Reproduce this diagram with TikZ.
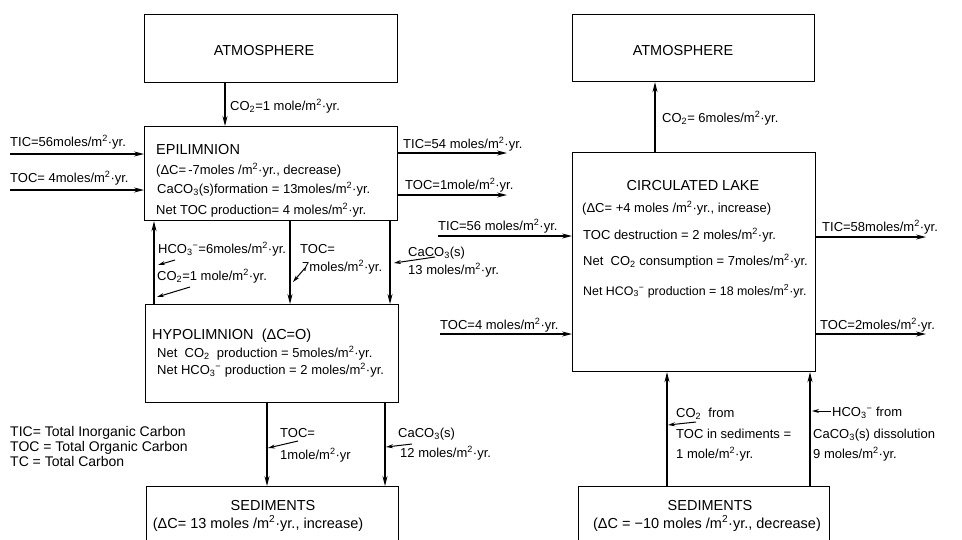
\documentclass[tikz,border=0pt]{standalone}
\usepackage{fontspec}
\setmainfont{Liberation Sans}
\usetikzlibrary{arrows.meta}

\newcommand{\sq}{m\textsuperscript{2}·yr.}
\newcommand{\cotwo}{CO\textsubscript{2}}
\newcommand{\hcothree}{HCO\textsubscript{3}\textsuperscript{−}}
\newcommand{\cacothree}{CaCO\textsubscript{3}}
\newcommand{\headsize}{\fontsize{14.5}{16}\selectfont}

\begin{document}
\begin{tikzpicture}[x=1pt, y=-1pt, font=\fontsize{13}{15}\selectfont]
            \tikzstyle{box} = [draw, line width=1.2pt, anchor=north west, inner sep=0]
            \tikzstyle{txt} = [anchor=base west, inner sep=0]
            \tikzstyle{head} = [anchor=base, inner sep=0, font=\headsize]
            \tikzstyle{flow} = [line width=1.2pt, -{Stealth[length=10pt, width=5pt]}]
            \tikzstyle{ptr} = [line width=1pt, -{Stealth[length=7pt, width=4pt]}]

            \useasboundingbox (0,0) rectangle (962,539);

            % stratified lake
            \node[box, minimum width=253pt, minimum height=68pt] (atmL) at (144,14) {};
            \node[box, minimum width=253pt, minimum height=94pt] (epi) at (144,126) {};
            \node[box, minimum width=253pt, minimum height=98pt] (hypo) at (145,304) {};
            \node[box, minimum width=252pt, minimum height=80pt] (sedL) at (146,486) {};

            \node[head] (atmLtxt) at (264,55) {ATMOSPHERE};
            \node[head, anchor=base west] (epiTtl) at (156,154) {EPILIMNION};
            \node[txt] (epiA) at (156,174) {(ΔC=\,-7moles /\sq, decrease)};
            \node[txt] (epiB) at (157,193) {\cacothree(s)formation = 13moles/\sq};
            \node[txt] (epiC) at (156,214) {Net TOC production= 4 moles/\sq};

            \draw[flow] (225,0 |- atmL.south) -- (225,0 |- epi.north);
            \node[txt] (co2L) at (230,110) {\cotwo=1 mole/\sq};

            \coordinate (ticLin) at (10,154);
            \coordinate (tocLin) at (10,190);
            \coordinate (ticLout) at (507,153);
            \coordinate (tocLout) at (507,195);
            \draw[flow] (ticLin) -- (ticLin -| epi.west);
            \draw[flow] (tocLin) -- (tocLin -| epi.west);
            \draw[flow] (ticLout -| epi.east) -- (ticLout);
            \draw[flow] (tocLout -| epi.east) -- (tocLout);
            \node[txt] (ticLinTxt) at (10,146) {TIC=56moles/\sq};
            \node[txt] (tocLinTxt) at (10,182) {TOC= 4moles/\sq};
            \node[txt] (ticLoutTxt) at (403,148) {TIC=54 moles/\sq};
            \node[txt] (tocLoutTxt) at (405,189) {TOC=1mole/\sq};

            \draw[flow] (154,0 |- hypo.north) -- (154,0 |- epi.south);
            \draw[flow] (290,0 |- epi.south) -- (290,0 |- hypo.north);
            \draw[flow] (390,0 |- epi.south) -- (390,0 |- hypo.north);
            \node[txt] (hcoUp) at (158,253) {\hcothree=6moles/\sq};
            \node[txt] (co2Up) at (157,280) {\cotwo=1 mole/\sq};
            \node[txt] (tocDnA) at (300,253) {TOC=};
            \node[txt] (tocDnB) at (302,271) {7moles/\sq};
            \node[txt] (cacoDnA) at (408,256) {\cacothree(s)};
            \node[txt] (cacoDnB) at (408,274) {13 moles/\sq};
            \draw[ptr] ([shift={(17,7)}]hcoUp.base west) -- ++(-17,5);
            \draw[ptr] ([shift={(33,7)}]co2Up.base west) -- ++(-33,10);
            \draw[ptr] ([shift={(3,-3)}]tocDnB.base west) -- ++(-12,14);
            \draw[ptr] ([shift={(27,1)}]cacoDnA.base west) -- ++(-41,6);

            \node[head, anchor=base west] (hypoTtl) at (152,339) {HYPOLIMNION\ \ (ΔC=O)};
            \node[txt] (hypoA) at (157,357) {Net \ \cotwo\ \ production = 5moles/\sq};
            \node[txt] (hypoB) at (157,374) {Net \hcothree\ production = 2 moles/\sq};

            \draw[flow] (267,0 |- hypo.south) -- (267,0 |- sedL.north);
            \draw[flow] (385,0 |- hypo.south) -- (385,0 |- sedL.north);
            \node[txt] (tocSedA) at (280,437) {TOC=};
            \node[txt] (tocSedB) at (280,459) {1mole/m\textsuperscript{2}·yr};
            \node[txt] (cacoSedA) at (398,437) {\cacothree(s)};
            \node[txt] (cacoSedB) at (400,457) {12 moles/\sq};
            \draw[ptr] ([shift={(18,4)}]tocSedA.base west) -- ++(-30,7);
            \draw[ptr] ([shift={(14,7)}]cacoSedA.base west) -- ++(-26,3);

            \node[head] (sedLttl) at (273,510) {SEDIMENTS};
            \node[head] (sedLA) at (258,528) {(ΔC= 13 moles /\sq, increase)};

            \node[txt, font=\fontsize{14}{15}\selectfont] (legA) at (10,436) {TIC= Total Inorganic Carbon};
            \node[txt, font=\fontsize{14}{15}\selectfont] (legB) at (10,451) {TOC = Total Organic Carbon};
            \node[txt, font=\fontsize{14}{15}\selectfont] (legC) at (10,466) {TC = Total Carbon};

            % circulated lake
            \node[box, minimum width=242pt, minimum height=67pt] (atmR) at (572,14) {};
            \node[box, minimum width=243pt, minimum height=219pt] (lake) at (572,152) {};
            \node[box, minimum width=251pt, minimum height=74pt] (sedR) at (578,486) {};

            \node[head] (atmRtxt) at (683,55) {ATMOSPHERE};
            \draw[flow] (655,0 |- lake.north) -- (655,0 |- atmR.south);
            \node[txt] (co2R) at (662,122) {\cotwo= 6moles/\sq};

            \node[head] (lakeTtl) at (693,190) {CIRCULATED LAKE};
            \node[txt] (lakeA) at (582,212) {(ΔC= +4 moles /\sq, increase)};
            \node[txt] (lakeB) at (583,239) {TOC destruction = 2 moles/\sq};
            \node[txt] (lakeC) at (583,265) {Net \ \cotwo\ consumption = 7moles/\sq};
            \node[txt, font=\fontsize{12.4}{15}\selectfont] (lakeD) at (583,295) {Net \hcothree\ production = 18 moles/\sq};

            \coordinate (ticRin) at (438,236);
            \coordinate (tocRin) at (440,334);
            \coordinate (ticRout) at (926,237);
            \coordinate (tocRout) at (926,334);
            \draw[flow] (ticRin) -- (ticRin -| lake.west);
            \draw[flow] (tocRin) -- (tocRin -| lake.west);
            \draw[flow] (ticRout -| lake.east) -- (ticRout);
            \draw[flow] (tocRout -| lake.east) -- (tocRout);
            \node[txt] (ticRinTxt) at (438,230) {TIC=56 moles/\sq};
            \node[txt] (tocRinTxt) at (440,329) {TOC=4 moles/\sq};
            \node[txt] (ticRoutTxt) at (822,231) {TIC=58moles/\sq};
            \node[txt] (tocRoutTxt) at (820,329) {TOC=2moles/\sq};

            \draw[flow] (667,0 |- sedR.north) -- (667,0 |- lake.south);
            \draw[flow] (810,0 |- sedR.north) -- (810,0 |- lake.south);
            \node[txt] (co2From) at (676,417) {\cotwo\ \ from};
            \node[txt] (tocInSed) at (676,438) {TOC in sediments =};
            \node[txt] (tocInSedB) at (676,458) {1 mole/\sq};
            \node[txt] (hcoFrom) at (832,416) {\hcothree\ from};
            \node[txt] (cacoDis) at (813,438) {\cacothree(s) dissolution};
            \node[txt] (cacoDisB) at (813,458) {9 moles/\sq};
            \draw[ptr] ([shift={(20,5)}]co2From.base west) -- ++(-28,3);
            \draw[ptr] ([shift={(-1,-5)}]hcoFrom.base west) -- ++(-19,0);

            \node[head] (sedRttl) at (710,510) {SEDIMENTS};
            \node[head] (sedRA) at (707,528) {(ΔC = −10 moles /\sq, decrease)};
\end{tikzpicture}
\end{document}
